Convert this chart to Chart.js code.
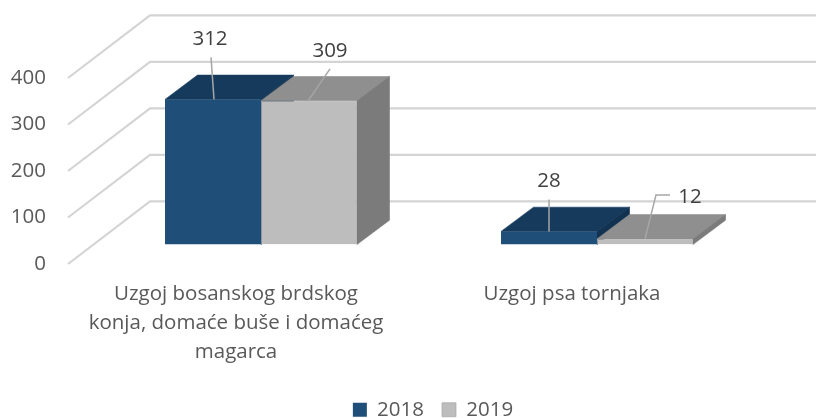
<!DOCTYPE html>
<html><head><meta charset="utf-8">
<style>html,body{margin:0;padding:0;background:#fff}canvas{display:block}</style>
<script src="https://cdn.jsdelivr.net/npm/chart.js@4"></script>
</head><body><canvas id="c" width="816" height="418"></canvas>
<script>
const categories = [["Uzgoj bosanskog brdskog","konja, domaće buše i domaćeg","magarca"],"Uzgoj psa tornjaka"];
const series2018 = [312, 28];
const series2019 = [309, 12];
const yTicks = [0, 100, 200, 300, 400];

const frontColors = ['#1f4e79', '#bdbdbd'];
const topColors = ['#163a5c', '#8f8f8f'];
const sideColors = ['#123251', '#7b7b7b'];
const FONT = '"Open Sans", sans-serif';
const PLANE = {dx: 25, dy: -19.5};
const DEPTH = {dx: 32.5, dy: -24.3};
const WALL = {dx: 82, dy: -62.7};
const leaders = [
  [ {pts:[[1,0],[-2,-42]], label:[-3,-60]}, {pts:[[-1,0],[21,-32]], label:[21,-50]} ],
  [ {pts:[[0,0],[0,-32]], label:[0,-50]}, {pts:[[0,0],[11,-44],[25,-44]], label:[45,-42]} ]
];

function poly(ctx, pts, fill){
  ctx.beginPath(); pts.forEach((p,i)=> i?ctx.lineTo(p[0],p[1]):ctx.moveTo(p[0],p[1])); ctx.closePath();
  ctx.fillStyle = fill; ctx.fill();
  ctx.lineWidth = 0.6; ctx.strokeStyle = fill; ctx.stroke();
}
const bars3d = {
  id: 'bars3d',
  afterLayout(chart){
    const lg = chart.legend;
    lg.left += 63; lg.right += 63; lg.top += 12; lg.bottom += 12;
    chart.scales.x.bottom += 40;
  },
  beforeDraw(chart){
    const {ctx, chartArea:a, scales:{y}} = chart;
    ctx.save();
    ctx.strokeStyle = '#d4d4d4'; ctx.lineWidth = 2.2; ctx.lineJoin = 'round';
    y.ticks.forEach(t=>{
      const py = y.getPixelForValue(t.value);
      ctx.beginPath();
      ctx.moveTo(a.left, py);
      ctx.lineTo(a.left+WALL.dx, py+WALL.dy);
      ctx.lineTo(chart.width, py+WALL.dy);
      ctx.stroke();
    });
    ctx.restore();
  },
  beforeDatasetsDraw(chart){
    const {ctx} = chart;
    ctx.save();
    ctx.translate(PLANE.dx, PLANE.dy);
    [0,1].forEach(d=>{
      chart.getDatasetMeta(d).data.forEach(b=>{
        const L=b.x-b.width/2, R=b.x+b.width/2, T=b.y, B=b.base;
        poly(ctx, [[L,T],[R,T],[R+DEPTH.dx,T+DEPTH.dy],[L+DEPTH.dx,T+DEPTH.dy]], topColors[d]);
        poly(ctx, [[R,T],[R+DEPTH.dx,T+DEPTH.dy],[R+DEPTH.dx,B+DEPTH.dy],[R,B]], sideColors[d]);
      });
    });
  },
  afterDatasetsDraw(chart){
    const {ctx} = chart;
    [0,1].forEach(d=>{
      const vals = chart.data.datasets[d].data;
      chart.getDatasetMeta(d).data.forEach((b,i)=>{
        const l = leaders[i][d];
        ctx.beginPath();
        l.pts.forEach((p,k)=>{ const X=b.x+p[0],Y=b.y+p[1]; k?ctx.lineTo(X,Y):ctx.moveTo(X,Y); });
        ctx.strokeStyle='#a6a6a6'; ctx.lineWidth=1.5; ctx.stroke();
        ctx.fillStyle='#404040'; ctx.font='20.5px '+FONT; ctx.textAlign='center'; ctx.textBaseline='middle';
        ctx.fillText(String(vals[i]), b.x+l.label[0], b.y+l.label[1]);
      });
    });
    ctx.restore();
  }
};
new Chart(document.getElementById('c'), {
  type:'bar',
  data:{labels:categories, datasets:[
    {label:'2018', data:series2018, backgroundColor:frontColors[0], borderWidth:0},
    {label:'2019', data:series2019, backgroundColor:frontColors[1], borderColor:'#a8a8a8', borderWidth:0.7}
  ]},
  plugins:[bars3d],
  options:{
    responsive:false, animation:false,
    layout:{padding:{top:78,right:76,left:0,bottom:0}},
    datasets:{bar:{barPercentage:1,categoryPercentage:0.5714}},
    plugins:{
      tooltip:{enabled:false},
      legend:{position:'bottom',labels:{boxWidth:14,boxHeight:14,padding:18,color:'#595959',font:{family:FONT,size:20.5}}}
    },
    scales:{
      x:{grid:{display:false},border:{display:false},
        afterFit(s){s.height=105.5;},
        ticks:{color:'#595959',font:{family:FONT,size:20.5,lineHeight:1.43},maxRotation:0,autoSkip:false,padding:7}},
      y:{min:0,max:400,grid:{display:false},border:{display:false},
        afterFit(s){s.width=68;},
        afterBuildTicks(s){s.ticks=yTicks.map(v=>({value:v}));},
        ticks:{color:'#595959',font:{family:FONT,size:20.5},padding:14}}
    }
  }
});
</script></body></html>
